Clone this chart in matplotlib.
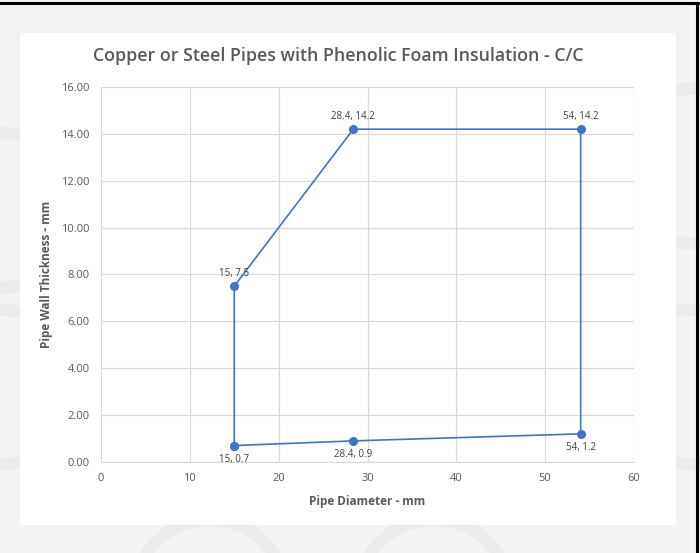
import matplotlib.pyplot as plt
from matplotlib.patches import Rectangle, Ellipse
from matplotlib.lines import Line2D

# path of the outline, in drawing order
DIAMETER = [15, 15, 28.4, 54, 54, 28.4, 15]
THICKNESS = [0.7, 7.5, 14.2, 14.2, 1.2, 0.9, 0.7]
LABELS = ['15, 0.7', '15, 7.5', '28.4, 14.2', '54, 14.2', '54, 1.2', '28.4, 0.9']
LABEL_POS = ['below', 'above', 'above', 'above', 'below', 'below']

LINE_COLOR = '#4472C4'
TEXT_COLOR = '#595959'
plt.rcParams['font.family'] = ['Open Sans', 'DejaVu Sans']

fig = plt.figure(figsize=(7.0, 5.53), dpi=100)
fig.patch.set_facecolor('#f3f3f3')

# faint watermark rings behind the chart
for cx, cy in [(0.0, 0.3), (0.0, 0.62), (0.3, -0.08), (0.62, -0.08), (0.99, 0.3), (0.99, 0.7)]:
    fig.patches.append(Ellipse((cx, cy), 0.22, 0.28, transform=fig.transFigure,
                               fill=False, lw=9, ec='#ebebeb', zorder=-3))

# white chart panel
fig.patches.append(Rectangle((0.0286, 0.0506), 0.937, 0.8897, transform=fig.transFigure,
                             fc='white', ec='none', zorder=-2))
# black screenshot border (top and right)
fig.lines.append(Line2D([0, 0.997], [0.995, 0.995], transform=fig.transFigure,
                        color='black', lw=2.2, zorder=5))
fig.lines.append(Line2D([0.996, 0.996], [0, 0.995], transform=fig.transFigure,
                        color='black', lw=2.2, zorder=5))

ax = fig.add_axes([0.1443, 0.1646, 0.7614, 0.6781])
ax.set_facecolor('none')
ax.plot(DIAMETER, THICKNESS, color=LINE_COLOR, lw=1.2, marker='o', ms=5.5,
        zorder=3, clip_on=False)

for x, y, lab, pos in zip(DIAMETER, THICKNESS, LABELS, LABEL_POS):
    dy = 9 if pos == 'above' else -10
    ax.annotate(lab, (x, y), xytext=(0, dy), textcoords='offset points',
                ha='center', va='center', fontsize=7, color='#404040')

ax.set_xlim(0, 60)
ax.set_ylim(0, 16)
ax.set_xticks(range(0, 61, 10))
ax.set_yticks(range(0, 17, 2))
ax.set_yticklabels(['%.2f' % v for v in range(0, 17, 2)])
ax.grid(True, color='#d9d9d9', lw=0.9)
ax.set_axisbelow(True)
for side in ['top', 'right', 'left']:
    ax.spines[side].set_visible(False)
ax.spines['bottom'].set_color('#d9d9d9')
ax.tick_params(length=0, labelsize=8, colors=TEXT_COLOR, pad=8)

ax.set_xlabel('Pipe Diameter - mm', fontsize=8.5, fontweight='bold', color=TEXT_COLOR, labelpad=8)
ax.set_ylabel('Pipe Wall Thickness - mm', fontsize=8.5, fontweight='bold', color=TEXT_COLOR, labelpad=6)
fig.text(0.483, 0.898, 'Copper or Steel Pipes with Phenolic Foam Insulation - C/C',
         ha='center', va='center', fontsize=12.8, fontweight='semibold', color=TEXT_COLOR)

fig.savefig('out.png', dpi=100)
